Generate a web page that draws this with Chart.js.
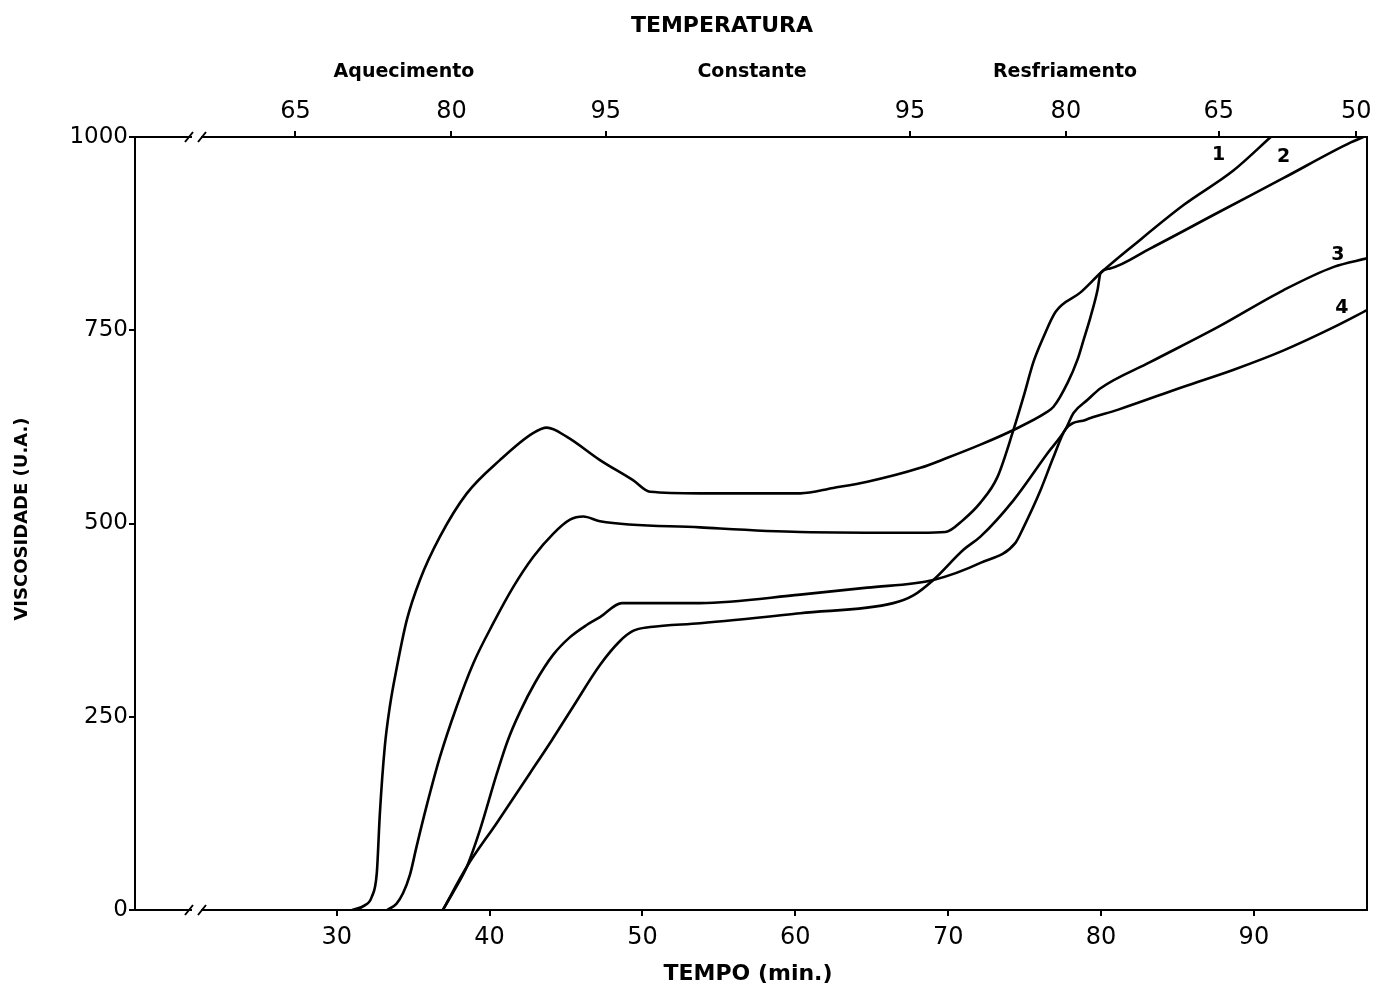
<!DOCTYPE html>
<html><head><meta charset="utf-8">
<script src="https://cdn.jsdelivr.net/npm/chart.js@4"></script>
<style>html,body{margin:0;padding:0;background:#fff}#wrap{width:1385px;height:991px;position:relative}</style>
</head><body><div id="wrap"><canvas id="c"></canvas></div>
<script>
// ---- data ----
const bottomTicks = [30, 40, 50, 60, 70, 80, 90];
const topTickTimes = [27.3, 37.5, 47.6, 67.5, 77.7, 87.7, 96.7];
const topTickLabels = ['65', '80', '95', '95', '80', '65', '50'];
const phaseNames = ['Aquecimento', 'Constante', 'Resfriamento'];
const seriesNames = ['1', '2', '3', '4'];

const time1 = [33.3,33.9,34.34,34.78,35.22,35.87,36.75,37.84,38.93,40.24,41.55,42.86,44.17,45.26,46.13,47.22,53.77,60.32,68.18,69.82,71.0,72.11,73.22,74.27,74.93,75.58,76.23,77.03,78.66,79.97,82.13,85.40,88.68,91.10];
const visc1 = [0,8,22,45,82,134,198,263,319,371,418,457,487,505,509,503,495,489,488,489,505,527,560,621,664,709,741,774,799,824,860,912,957,1000];

const time2 = [31.0,31.83,32.29,32.62,32.82,33.14,33.47,33.93,34.58,35.44,36.75,38.51,40.67,42.84,43.75,45.06,47.22,49.38,50.50,53.77,60.32,62.48,64.71,68.18,69.95,72.11,74.27,76.37,76.89,77.81,78.46,78.85,79.31,79.77,79.97,80.6,83.24,87.63,91.95,96.34,97.4];
const visc2 = [0,6,17,48,125,211,263,314,375,427,483,539,582,617,624,612,582,556,541,539,539,546,554,572,585,602,621,643,651,682,712,737,767,802,824,830,856,902,947,993,1002];

const time3 = [36.94,38.51,40.48,42.64,44.08,45.46,47.22,48.53,49.38,50.50,53.77,60.32,66.41,67.72,69.03,71.0,72.11,74.27,76.50,77.68,78.20,79.12,79.97,83.24,87.63,91.95,95.23,97.4];
const visc3 = [0,56,113,177,220,263,317,348,361,366,371,384,397,407,427,466,483,530,591,622,643,660,675,709,754,802,832,843];

const time4 = [36.94,37.73,38.51,39.36,40.48,41.20,41.98,42.97,44.15,45.26,46.37,47.22,48.66,53.77,60.32,64.71,69.03,72.11,74.40,74.93,76.04,76.89,77.68,78.98,81.08,85.40,88.68,91.95,95.23,97.4];
const visc4 = [0,27,56,103,177,220,256,294,330,353,369,379,397,397,408,417,427,449,475,495,543,586,622,634,647,677,699,724,754,776];

// ---- chart ----
const FONT = '"DejaVu Sans", sans-serif';
function pts(t, v) { return t.map((x, i) => ({ x: x, y: v[i] })); }
const series = [[time1, visc1], [time2, visc2], [time3, visc3], [time4, visc4]];

const overlay = {
  id: 'overlay',
  afterDraw(chart) {
    const ctx = chart.ctx, a = chart.chartArea, xs = chart.scales.x, ys = chart.scales.y;
    ctx.save();
    ctx.strokeStyle = '#000'; ctx.lineWidth = 2;
    ctx.beginPath(); ctx.moveTo(a.right, a.top - 1); ctx.lineTo(a.right, a.bottom + 1); ctx.stroke();
    // axis breaks
    [a.top, a.bottom].forEach(y => {
      ctx.fillStyle = '#fff'; ctx.fillRect(192, y - 4, 9, 8);
      ctx.beginPath();
      ctx.moveTo(185, y + 5); ctx.lineTo(193, y - 5);
      ctx.moveTo(198, y + 5); ctx.lineTo(206, y - 5);
      ctx.stroke();
    });
    ctx.fillStyle = '#000';
    ctx.textAlign = 'center'; ctx.textBaseline = 'middle';
    ctx.font = 'bold 22px ' + FONT;
    ctx.fillText('TEMPERATURA', 722, 26);
    ctx.fillText('TEMPO (min.)', 748, 974);
    ctx.font = 'bold 19px ' + FONT;
    const phaseX = [404, 752, 1065];
    phaseNames.forEach((n, i) => ctx.fillText(n, phaseX[i], 72));
    ctx.save();
    ctx.translate(22, 519); ctx.rotate(-Math.PI / 2);
    ctx.font = 'bold 18px ' + FONT;
    ctx.fillText('VISCOSIDADE (U.A.)', 0, 0);
    ctx.restore();
    // curve numbers
    const lab = [[87.7, 977], [91.95, 974], [95.5, 847], [95.75, 779]];
    ctx.font = 'bold 19px ' + FONT;
    seriesNames.forEach((n, i) => ctx.fillText(n, xs.getPixelForValue(lab[i][0]), ys.getPixelForValue(lab[i][1])));
    ctx.restore();
  }
};

new Chart(document.getElementById('c'), {
  type: 'line',
  data: {
    datasets: series.map((s, i) => ({
      label: seriesNames[i],
      data: pts(s[0], s[1]),
      borderColor: '#000', borderWidth: 2.6, pointRadius: 0,
      fill: false, cubicInterpolationMode: 'monotone', xAxisID: 'x', yAxisID: 'y'
    }))
  },
  options: {
    responsive: true, maintainAspectRatio: false, animation: false, devicePixelRatio: 1,
    layout: { padding: { left: 0, right: 18, top: 0, bottom: 0 } },
    plugins: { legend: { display: false }, tooltip: { enabled: false } },
    scales: {
      x: {
        type: 'linear', position: 'bottom', min: 16.8, max: 97.4,
        afterBuildTicks: s => { s.ticks = bottomTicks.map(v => ({ value: v })); },
        afterFit: s => { s.height = 81; },
        ticks: { color: '#000', font: { family: FONT, size: 24 }, padding: 7, maxRotation: 0, autoSkip: false,
          callback: v => String(v) },
        grid: { display: true, drawOnChartArea: false, tickLength: 6, color: '#000', lineWidth: 2 },
        border: { display: true, color: '#000', width: 2 }
      },
      x2: {
        type: 'linear', position: 'top', min: 16.8, max: 97.4,
        afterBuildTicks: s => { s.ticks = topTickTimes.map(v => ({ value: v })); },
        afterFit: s => { s.height = 137; },
        ticks: { color: '#000', font: { family: FONT, size: 24 }, padding: 5, maxRotation: 0, autoSkip: false,
          callback: (v, i) => topTickLabels[i] },
        grid: { display: true, drawOnChartArea: false, tickLength: 6, color: '#000', lineWidth: 2 },
        border: { display: true, color: '#000', width: 2 }
      },
      y: {
        type: 'linear', position: 'left', min: 0, max: 1000,
        afterFit: s => { s.width = 135; },
        ticks: { stepSize: 250, color: '#000', font: { family: FONT, size: 23 }, padding: 1,
          callback: v => String(v) },
        grid: { display: true, drawOnChartArea: false, tickLength: 6, color: '#000', lineWidth: 2 },
        border: { display: true, color: '#000', width: 2 }
      }
    }
  },
  plugins: [overlay]
});
</script>
</body></html>
